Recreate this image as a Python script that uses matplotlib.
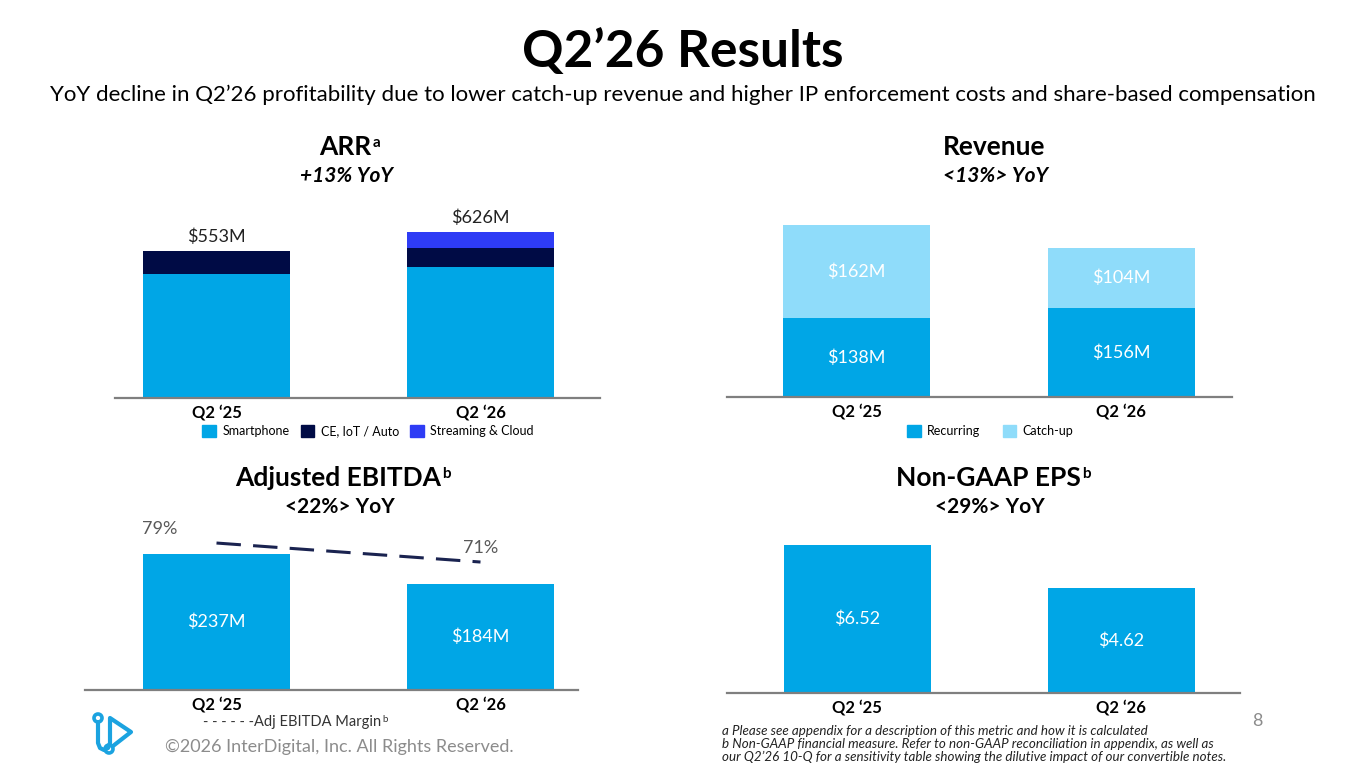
import matplotlib
matplotlib.use("Agg")
import matplotlib.pyplot as plt
from matplotlib.patches import Patch, Circle

plt.rcParams["font.family"] = ["Lato", "DejaVu Sans"]

# --------------------------------------------------
# Data
# --------------------------------------------------
quarters = ["Q2 \u201825", "Q2 \u201826"]

arr_smartphone = [466, 491]
arr_ce = [87, 74]
arr_streaming = [0, 61]
arr_total = [553, 626]

rev_recurring = [138, 156]
rev_catchup = [162, 104]

ebitda = [237, 184]
ebitda_margin = [79, 71]

eps = [6.52, 4.62]

# colours
C_MAIN = "#00A6E6"
C_NAVY = "#000B45"
C_STREAM = "#2E3CF5"
C_LIGHT = "#8FDCFA"
C_AXIS = "#7F7F7F"

W, H = 1365, 768
fig = plt.figure(figsize=(W / 100, H / 100), dpi=100)


def panel(x0, x1, base, top, center0, center1, ymax):
    # axes placed in pixel units; x scaled so bar centres land at 0 and 1
    ax = fig.add_axes([x0 / W, (H - base) / H, (x1 - x0) / W, (base - top) / H])
    step = center1 - center0
    ax.set_xlim(-(center0 - x0) / step, 1 + (x1 - center1) / step)
    ax.set_ylim(0, ymax)
    for s in ["top", "right", "left"]:
        ax.spines[s].set_visible(False)
    ax.spines["bottom"].set_color(C_AXIS)
    ax.spines["bottom"].set_linewidth(1.6)
    ax.set_yticks([])
    ax.set_xticks([0, 1])
    ax.set_xticklabels(quarters, fontsize=12, fontweight="bold")
    ax.tick_params(axis="x", length=0, pad=5)
    ax.patch.set_visible(False)
    return ax, 147 / step


def inside_labels(ax, bottoms, heights, texts):
    for i, (b, h, t) in enumerate(zip(bottoms, heights, texts)):
        ax.text(i, b + h / 2, t, ha="center", va="center", color="white", fontsize=13)


xs = [0, 1]

# ---------------- ARR ----------------
ax, bw = panel(115, 600, 397.7, 200, 216.5, 480.5, 745.3)
ax.bar(xs, arr_smartphone, bw, color=C_MAIN)
ax.bar(xs, arr_ce, bw, bottom=arr_smartphone, color=C_NAVY)
b2 = [a + b for a, b in zip(arr_smartphone, arr_ce)]
ax.bar(xs, arr_streaming, bw, bottom=b2, color=C_STREAM)
for i, t in enumerate(arr_total):
    ax.annotate(f"${t}M", (i, t), xytext=(0, 4), textcoords="offset points",
                ha="center", va="bottom", fontsize=13, color="#222222")
handles = [Patch(color=C_MAIN, label="Smartphone"),
           Patch(color=C_NAVY, label="CE, IoT / Auto"),
           Patch(color=C_STREAM, label="Streaming & Cloud")]
ax.legend(handles=handles, loc="center", bbox_to_anchor=(368 / W, (H - 431) / H),
          bbox_transform=fig.transFigure, ncol=3, frameon=False, fontsize=9,
          handlelength=1.1, handleheight=1.1, handletextpad=0.5, columnspacing=0.9)

# ---------------- Revenue ----------------
ax, bw = panel(727, 1232, 397, 200, 856.5, 1121, 343.6)
ax.bar(xs, rev_recurring, bw, color=C_MAIN)
ax.bar(xs, rev_catchup, bw, bottom=rev_recurring, color=C_LIGHT)
inside_labels(ax, [0, 0], rev_recurring, [f"${v}M" for v in rev_recurring])
inside_labels(ax, rev_recurring, rev_catchup, [f"${v}M" for v in rev_catchup])
handles = [Patch(color=C_MAIN, label="Recurring"),
           Patch(color=C_LIGHT, label="Catch-up")]
ax.legend(handles=handles, loc="center", bbox_to_anchor=(990 / W, (H - 431) / H),
          bbox_transform=fig.transFigure, ncol=2, frameon=False, fontsize=9,
          handlelength=1.1, handleheight=1.1, handletextpad=0.5, columnspacing=1.8)

# ---------------- Adjusted EBITDA ----------------
ax, bw = panel(85, 578, 690, 520, 216.5, 480.5, 296.3)
ax.bar(xs, ebitda, bw, color=C_MAIN)
inside_labels(ax, [0, 0], ebitda, [f"${v}M" for v in ebitda])
ax2 = ax.twinx()
ax2.set_ylim(17.1, 88.7)
ax2.axis("off")
ax2.plot(xs, ebitda_margin, color="#1A2350", linewidth=2.2, dashes=(8, 4))
ax2.annotate(f"{ebitda_margin[0]}%", (0, ebitda_margin[0]), xytext=(-41, 4),
             textcoords="offset points", ha="center", va="bottom", fontsize=13, color="#595959")
ax2.annotate(f"{ebitda_margin[1]}%", (1, ebitda_margin[1]), xytext=(0, 4),
             textcoords="offset points", ha="center", va="bottom", fontsize=13, color="#595959")

# ---------------- Non-GAAP EPS ----------------
ax, bw = panel(727, 1240, 693, 520, 857, 1121, 7.62)
ax.bar(xs, eps, bw, color=C_MAIN)
inside_labels(ax, [0, 0], eps, [f"${v:.2f}" for v in eps])

# --------------------------------------------------
# Overlay for slide text (pixel coordinates)
# --------------------------------------------------
ov = fig.add_axes([0, 0, 1, 1])
ov.set_xlim(0, W)
ov.set_ylim(H, 0)
ov.axis("off")
ov.patch.set_visible(False)

ov.text(683, 52, "Q2\u201926 Results", ha="center", va="center", fontsize=37, fontweight="bold")
ov.text(683, 95, "YoY decline in Q2\u201926 profitability due to lower catch-up revenue and higher IP "
        "enforcement costs and share-based compensation", ha="center", va="center", fontsize=16)


def heading(x, y, txt, sup, sub, italic):
    t = ov.text(x, y, txt, ha="center", va="center", fontsize=19, fontweight="bold")
    ov.annotate(sup, xy=(1, 1), xycoords=t, xytext=(1, -1), textcoords="offset points",
                ha="left", va="top", fontsize=11, fontweight="bold")
    ov.text(x + 2, y + 29, sub, ha="center", va="center", fontsize=15, fontweight="bold",
            style="italic" if italic else "normal")


heading(345, 147, "ARR", "a", "+13% YoY", True)
heading(994, 147, "Revenue", "", "<13%> YoY", True)
heading(338, 478, "Adjusted EBITDA", "b", "<22%> YoY", False)
heading(988, 478, "Non-GAAP EPS", "b", "<29%> YoY", False)

# footer
t = ov.text(203, 722, "- - - - - -Adj EBITDA Margin", ha="left", va="center", fontsize=10.5, color="#333333")
ov.annotate("b", xy=(1, 1), xycoords=t, xytext=(1, 0), textcoords="offset points",
            ha="left", va="top", fontsize=7, color="#333333")
ov.text(165, 747, "\u00a92026 InterDigital, Inc. All Rights Reserved.", ha="left", va="center",
        fontsize=13, color="#8C8C8C")
ov.text(1257, 721, "8", ha="center", va="center", fontsize=13, color="#8C8C8C")

notes = ["a Please see appendix for a description of this metric and how it is calculated",
         "b Non-GAAP financial measure. Refer to non-GAAP reconciliation in appendix, as well as",
         "our Q2\u201926 10-Q for a sensitivity table showing the dilutive impact of our convertible notes."]
for i, n in enumerate(notes):
    ov.text(722, 731 + 13 * i, n, ha="left", va="center", fontsize=9.6, style="italic", color="#222222")

# logo
LOGO = "#1BA3E0"
ov.plot([98, 98, 100, 104, 108, 110, 110, 131, 113],
        [722, 743, 748, 750, 748, 743, 718, 732, 746], color=LOGO, linewidth=3,
        solid_capstyle="round", solid_joinstyle="round")
ov.add_patch(Circle((98, 718), 4, fill=False, edgecolor=LOGO, linewidth=2.6))
ov.add_patch(Circle((109, 749), 4, fill=False, edgecolor=LOGO, linewidth=2.6))

fig.savefig("out.png", dpi=100)
